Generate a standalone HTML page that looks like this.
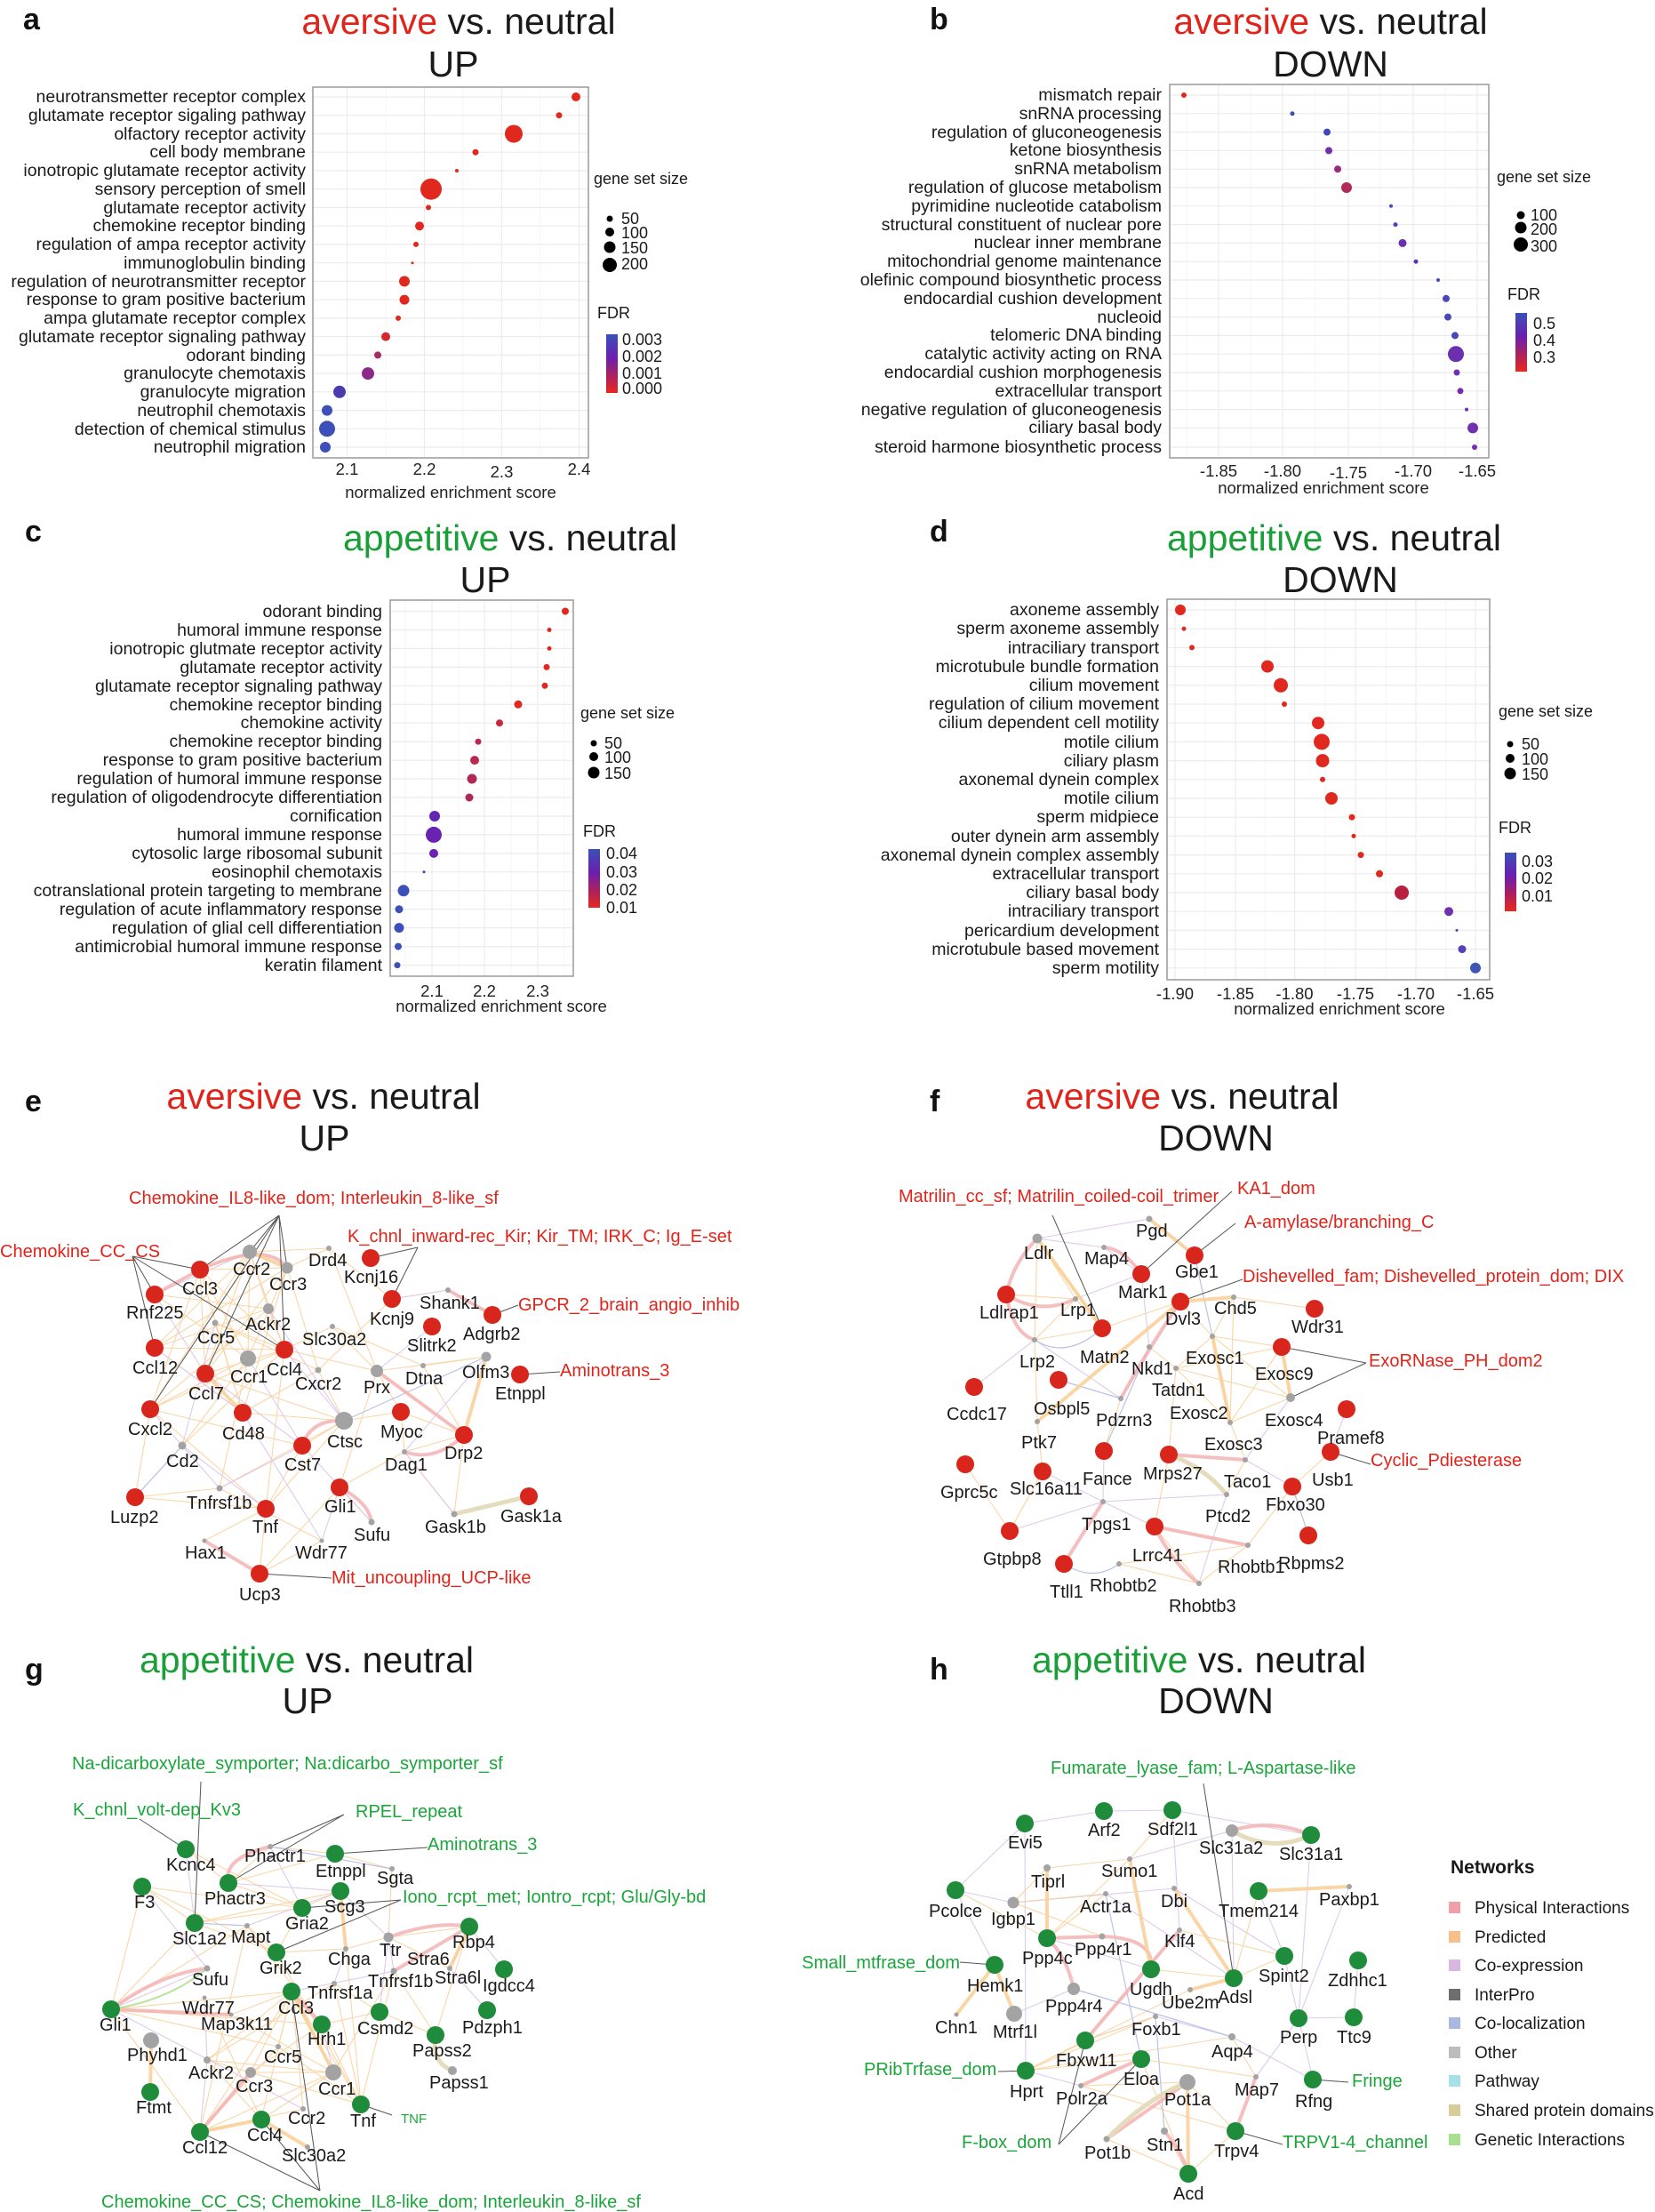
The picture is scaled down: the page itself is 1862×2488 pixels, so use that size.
<!DOCTYPE html>
<html><head><meta charset="utf-8"><style>
html,body{margin:0;padding:0;background:#fff;}
svg{display:block;font-family:"Liberation Sans",Arial,sans-serif;}
.lab{font-size:19.5px;fill:#1a1a1a;text-anchor:end;}
.tk{font-size:18.5px;fill:#222;text-anchor:middle;}
.ttl{font-size:41px;fill:#1a1a1a;text-anchor:middle;}
.pl{font-size:34px;font-weight:bold;fill:#111;}
.lg{font-size:18px;fill:#1a1a1a;}
.g{fill:none;stroke:#ececec;stroke-width:1.2;}
.gm{fill:none;stroke:#f5f5f5;stroke-width:1;}
.box{fill:none;stroke:#9a9a9a;stroke-width:1.5;}
.n{font-size:20px;fill:#1a1a1a;}
.ar{font-size:20px;fill:#e2231a;}
.ag{font-size:20px;fill:#1aa63a;}
.eo{fill:none;stroke:#f9cf96;stroke-width:1.1;opacity:.85;}
.ep{fill:none;stroke:#dcc5ea;stroke-width:1.1;opacity:.9;}
.eb{fill:none;stroke:#b8c3e8;stroke-width:1.2;}
.ek{fill:none;stroke:#f3b4b4;stroke-width:4;opacity:.85;}
.eO{fill:none;stroke:#f9cf96;stroke-width:4;opacity:.85;}
.eB{fill:none;stroke:#e4dcbc;stroke-width:5;}
.ea{fill:none;stroke:#555;stroke-width:1;}
.R{fill:#d9261c;}.G{fill:#1e8c3a;}.Y{fill:#a3a3a3;}
</style></head><body>
<svg width="1862" height="2488" viewBox="0 0 1862 2488" xmlns="http://www.w3.org/2000/svg">
<defs>
<linearGradient id="cb" x1="0" y1="0" x2="0" y2="1">
<stop offset="0" stop-color="#3a50b8"/><stop offset="0.4" stop-color="#6a1fb0"/><stop offset="0.72" stop-color="#b0205a"/><stop offset="1" stop-color="#e8281e"/>
</linearGradient>
</defs>

<!-- ================= PANEL A ================= -->
<text class="pl" x="26" y="33">a</text>
<text class="ttl" x="516" y="38"><tspan fill="#e2231a">aversive</tspan> vs. neutral</text>
<text class="ttl" x="510" y="86">UP</text>
<g>
<path class="gm" d="M434 98V515M521 98V515M608 98V515"/>
<path class="g" d="M390.5 98V515M477.5 98V515M564.5 98V515M651.5 98V515"/>
<path class="g" d="M352 109H662M352 129.7H662M352 150.5H662M352 171.2H662M352 192H662M352 212.7H662M352 233.4H662M352 254.2H662M352 274.9H662M352 295.7H662M352 316.4H662M352 337.1H662M352 357.9H662M352 378.6H662M352 399.4H662M352 420.1H662M352 440.8H662M352 461.6H662M352 482.3H662M352 503H662"/>
<rect class="box" x="352" y="98" width="310" height="417"/>
<g class="lab">
<text x="344" y="115">neurotransmetter receptor complex</text>
<text x="344" y="136">glutamate receptor sigaling pathway</text>
<text x="344" y="157">olfactory receptor activity</text>
<text x="344" y="177">cell body membrane</text>
<text x="344" y="198">ionotropic glutamate receptor activity</text>
<text x="344" y="219">sensory perception of smell</text>
<text x="344" y="240">glutamate receptor activity</text>
<text x="344" y="260">chemokine receptor binding</text>
<text x="344" y="281">regulation of ampa receptor activity</text>
<text x="344" y="302">immunoglobulin binding</text>
<text x="344" y="323">regulation of neurotransmitter receptor</text>
<text x="344" y="343">response to gram positive bacterium</text>
<text x="344" y="364">ampa glutamate receptor complex</text>
<text x="344" y="385">glutamate receptor signaling pathway</text>
<text x="344" y="406">odorant binding</text>
<text x="344" y="426">granulocyte chemotaxis</text>
<text x="344" y="447">granulocyte migration</text>
<text x="344" y="468">neutrophil chemotaxis</text>
<text x="344" y="489">detection of chemical stimulus</text>
<text x="344" y="509">neutrophil migration</text>
</g>
<circle cx="648" cy="109" r="5" fill="#e0281e"/>
<circle cx="629" cy="129.7" r="3.5" fill="#e0281e"/>
<circle cx="578" cy="150.5" r="10" fill="#e0281e"/>
<circle cx="535" cy="171.2" r="3.5" fill="#e0281e"/>
<circle cx="514" cy="192" r="2" fill="#e0281e"/>
<circle cx="485" cy="212.7" r="12" fill="#e0281e"/>
<circle cx="482" cy="233.4" r="3" fill="#e0281e"/>
<circle cx="472" cy="254.2" r="5" fill="#e0281e"/>
<circle cx="468" cy="274.9" r="3" fill="#e0281e"/>
<circle cx="464" cy="295.7" r="1.5" fill="#e0281e"/>
<circle cx="455" cy="316.4" r="6" fill="#e0281e"/>
<circle cx="455" cy="337.1" r="5.5" fill="#e0281e"/>
<circle cx="448" cy="357.9" r="3" fill="#e0281e"/>
<circle cx="434" cy="378.6" r="5" fill="#d22a30"/>
<circle cx="425" cy="399.4" r="4" fill="#a82c60"/>
<circle cx="414" cy="420.1" r="7" fill="#8a2a8a"/>
<circle cx="382" cy="440.8" r="7" fill="#4a3cae"/>
<circle cx="368" cy="461.6" r="6" fill="#3d4fb8"/>
<circle cx="368" cy="482.3" r="9" fill="#3d4fb8"/>
<circle cx="366" cy="503" r="6" fill="#3d4fb8"/>
<g class="tk"><text x="390.5" y="534">2.1</text><text x="477.5" y="534">2.2</text><text x="564.5" y="537">2.3</text><text x="651.5" y="534">2.4</text></g>
<text class="tk" x="507" y="560">normalized enrichment score</text>
<g class="lg">
<text x="668" y="207">gene set size</text>
<circle cx="686" cy="246" r="3.5" fill="#000"/><text x="699" y="252">50</text>
<circle cx="686" cy="261" r="5" fill="#000"/><text x="699" y="268">100</text>
<circle cx="686" cy="278" r="6.5" fill="#000"/><text x="699" y="285">150</text>
<circle cx="686" cy="298" r="8" fill="#000"/><text x="699" y="303">200</text>
<text x="672" y="358">FDR</text>
<rect x="682" y="376" width="13" height="66" fill="url(#cb)"/>
<text x="700" y="388">0.003</text><text x="700" y="407">0.002</text><text x="700" y="426">0.001</text><text x="700" y="443">0.000</text>
</g>
</g>

<!-- ================= PANEL B ================= -->
<text class="pl" x="1046" y="33">b</text>
<text class="ttl" x="1497" y="38"><tspan fill="#e2231a">aversive</tspan> vs. neutral</text>
<text class="ttl" x="1497" y="86">DOWN</text>
<g>
<path class="gm" d="M1335 95V515M1407 95V515M1480 95V515M1553 95V515M1626 95V515"/>
<path class="g" d="M1371 95V515M1443 95V515M1517 95V515M1590 95V515M1662 95V515"/>
<path class="g" d="M1316 107H1675M1316 127.8H1675M1316 148.6H1675M1316 169.4H1675M1316 190.2H1675M1316 211H1675M1316 231.8H1675M1316 252.6H1675M1316 273.4H1675M1316 294.2H1675M1316 315H1675M1316 335.8H1675M1316 356.6H1675M1316 377.4H1675M1316 398.2H1675M1316 419H1675M1316 439.8H1675M1316 460.6H1675M1316 481.4H1675M1316 503H1675"/>
<rect class="box" x="1316" y="95" width="359" height="420"/>
<g class="lab">
<text x="1307" y="113">mismatch repair</text>
<text x="1307" y="134">snRNA processing</text>
<text x="1307" y="155">regulation of gluconeogenesis</text>
<text x="1307" y="175">ketone biosynthesis</text>
<text x="1307" y="196">snRNA metabolism</text>
<text x="1307" y="217">regulation of glucose metabolism</text>
<text x="1307" y="238">pyrimidine nucleotide catabolism</text>
<text x="1307" y="259">structural constituent of nuclear pore</text>
<text x="1307" y="279">nuclear inner membrane</text>
<text x="1307" y="300">mitochondrial genome maintenance</text>
<text x="1307" y="321">olefinic compound biosynthetic process</text>
<text x="1307" y="342">endocardial cushion development</text>
<text x="1307" y="363">nucleoid</text>
<text x="1307" y="383">telomeric DNA binding</text>
<text x="1307" y="404">catalytic activity acting on RNA</text>
<text x="1307" y="425">endocardial cushion morphogenesis</text>
<text x="1307" y="446">extracellular transport</text>
<text x="1307" y="467">negative regulation of gluconeogenesis</text>
<text x="1307" y="487">ciliary basal body</text>
<text x="1307" y="509">steroid harmone biosynthetic process</text>
</g>
<circle cx="1332" cy="107" r="3" fill="#e02a1e"/>
<circle cx="1454" cy="127.8" r="2.5" fill="#3d4fb8"/>
<circle cx="1493" cy="148.6" r="4" fill="#4048b8"/>
<circle cx="1495" cy="169.4" r="4" fill="#7030b0"/>
<circle cx="1505" cy="190.2" r="4" fill="#9a2c80"/>
<circle cx="1515" cy="211" r="6" fill="#b02a5a"/>
<circle cx="1565" cy="231.8" r="2" fill="#3d4fb8"/>
<circle cx="1570" cy="252.6" r="2.5" fill="#5040b8"/>
<circle cx="1578" cy="273.4" r="4.5" fill="#6a30b0"/>
<circle cx="1593" cy="294.2" r="2.5" fill="#5a36b0"/>
<circle cx="1618" cy="315" r="2" fill="#3d4fb8"/>
<circle cx="1627" cy="335.8" r="4" fill="#4848b8"/>
<circle cx="1629" cy="356.6" r="4" fill="#4848b8"/>
<circle cx="1637" cy="377.4" r="4" fill="#4848b8"/>
<circle cx="1638" cy="398.2" r="9" fill="#6a30b0"/>
<circle cx="1639" cy="419" r="3.5" fill="#7030b0"/>
<circle cx="1643" cy="439.8" r="3.5" fill="#7a2cb0"/>
<circle cx="1650" cy="460.6" r="2" fill="#7030b0"/>
<circle cx="1657" cy="481.4" r="6" fill="#7030b0"/>
<circle cx="1659" cy="503" r="3" fill="#7a2cb0"/>
<g class="tk"><text x="1371" y="536">-1.85</text><text x="1443" y="536">-1.80</text><text x="1517" y="538">-1.75</text><text x="1590" y="536">-1.70</text><text x="1662" y="536">-1.65</text></g>
<text class="tk" x="1489" y="555">normalized enrichment score</text>
<g class="lg">
<text x="1684" y="205">gene set size</text>
<circle cx="1711" cy="242" r="4.5" fill="#000"/><text x="1722" y="248">100</text>
<circle cx="1711" cy="256" r="6.5" fill="#000"/><text x="1722" y="264">200</text>
<circle cx="1711" cy="275" r="8" fill="#000"/><text x="1722" y="283">300</text>
<text x="1696" y="337">FDR</text>
<rect x="1705" y="352" width="13" height="66" fill="url(#cb)"/>
<text x="1725" y="370">0.5</text><text x="1725" y="389">0.4</text><text x="1725" y="408">0.3</text>
</g>
</g>

<!-- ================= PANEL C ================= -->
<text class="pl" x="28" y="609">c</text>
<text class="ttl" x="574" y="619"><tspan fill="#1a9e38">appetitive</tspan> vs. neutral</text>
<text class="ttl" x="546" y="666">UP</text>
<g>
<path class="gm" d="M456 675V1098M516 675V1098M575 675V1098M635 675V1098"/>
<path class="g" d="M486 675V1098M545 675V1098M605 675V1098"/>
<path class="g" d="M439 687.5H645M439 708.5H645M439 729.4H645M439 750.4H645M439 771.3H645M439 792.3H645M439 813.2H645M439 834.2H645M439 855.1H645M439 876H645M439 897H645M439 918H645M439 938.9H645M439 959.9H645M439 980.8H645M439 1001.8H645M439 1022.7H645M439 1043.6H645M439 1064.6H645M439 1085.6H645"/>
<rect class="box" x="439" y="675" width="206" height="423"/>
<g class="lab">
<text x="430" y="694">odorant binding</text>
<text x="430" y="715">humoral immune response</text>
<text x="430" y="736">ionotropic glutmate receptor activity</text>
<text x="430" y="757">glutamate receptor activity</text>
<text x="430" y="778">glutamate receptor signaling pathway</text>
<text x="430" y="799">chemokine receptor binding</text>
<text x="430" y="819">chemokine activity</text>
<text x="430" y="840">chemokine receptor binding</text>
<text x="430" y="861">response to gram positive bacterium</text>
<text x="430" y="882">regulation of humoral immune response</text>
<text x="430" y="903">regulation of oligodendrocyte differentiation</text>
<text x="430" y="924">cornification</text>
<text x="430" y="945">humoral immune response</text>
<text x="430" y="966">cytosolic large ribosomal subunit</text>
<text x="430" y="987">eosinophil chemotaxis</text>
<text x="430" y="1008">cotranslational protein targeting to membrane</text>
<text x="430" y="1029">regulation of acute inflammatory response</text>
<text x="430" y="1050">regulation of glial cell differentiation</text>
<text x="430" y="1071">antimicrobial humoral immune response</text>
<text x="430" y="1092">keratin filament</text>
</g>
<circle cx="636" cy="687.5" r="4" fill="#e0281e"/>
<circle cx="618" cy="708.5" r="2.5" fill="#e0281e"/>
<circle cx="618" cy="729.4" r="2.5" fill="#e0281e"/>
<circle cx="615" cy="750.4" r="3.5" fill="#e0281e"/>
<circle cx="613" cy="771.3" r="3.5" fill="#e0281e"/>
<circle cx="583" cy="792.3" r="4.5" fill="#e0281e"/>
<circle cx="562" cy="813.2" r="4" fill="#c8283c"/>
<circle cx="538" cy="834.2" r="3.5" fill="#b82850"/>
<circle cx="534" cy="855.1" r="5" fill="#b82850"/>
<circle cx="531" cy="876" r="5.5" fill="#b02858"/>
<circle cx="528" cy="897" r="4.5" fill="#b02858"/>
<circle cx="489" cy="918" r="6" fill="#6028b0"/>
<circle cx="488" cy="938.9" r="9" fill="#6a22b0"/>
<circle cx="488" cy="959.9" r="5" fill="#6a22b0"/>
<circle cx="477" cy="980.8" r="1.5" fill="#5a30b0"/>
<circle cx="454" cy="1001.8" r="6.5" fill="#3d4fb8"/>
<circle cx="449" cy="1022.7" r="4.5" fill="#3d4fb8"/>
<circle cx="449" cy="1043.6" r="5.5" fill="#3d4fb8"/>
<circle cx="448" cy="1064.6" r="4" fill="#3d4fb8"/>
<circle cx="447" cy="1085.6" r="3.5" fill="#3d4fb8"/>
<g class="tk"><text x="486" y="1121">2.1</text><text x="545" y="1121">2.2</text><text x="605" y="1121">2.3</text></g>
<text class="tk" x="564" y="1138">normalized enrichment score</text>
<g class="lg">
<text x="653" y="808">gene set size</text>
<circle cx="668" cy="836" r="3.5" fill="#000"/><text x="680" y="842">50</text>
<circle cx="668" cy="851" r="5" fill="#000"/><text x="680" y="858">100</text>
<circle cx="668" cy="869" r="6.5" fill="#000"/><text x="680" y="876">150</text>
<text x="656" y="941">FDR</text>
<rect x="662" y="955" width="13" height="66" fill="url(#cb)"/>
<text x="682" y="966">0.04</text><text x="682" y="987">0.03</text><text x="682" y="1007">0.02</text><text x="682" y="1027">0.01</text>
</g>
</g>

<!-- ================= PANEL D ================= -->
<text class="pl" x="1046" y="609">d</text>
<text class="ttl" x="1501" y="619"><tspan fill="#1a9e38">appetitive</tspan> vs. neutral</text>
<text class="ttl" x="1508" y="666">DOWN</text>
<g>
<path class="gm" d="M1356 674V1102M1423 674V1102M1491 674V1102M1559 674V1102M1627 674V1102"/>
<path class="g" d="M1322 674V1102M1390 674V1102M1456.5 674V1102M1525 674V1102M1593 674V1102M1660 674V1102"/>
<path class="g" d="M1313 686H1676M1313 707.2H1676M1313 728.4H1676M1313 749.6H1676M1313 770.8H1676M1313 792H1676M1313 813.2H1676M1313 834.4H1676M1313 855.6H1676M1313 876.8H1676M1313 898H1676M1313 919.2H1676M1313 940.4H1676M1313 961.6H1676M1313 982.8H1676M1313 1004H1676M1313 1025.2H1676M1313 1046.4H1676M1313 1067.6H1676M1313 1088.8H1676"/>
<rect class="box" x="1313" y="674" width="363" height="428"/>
<g class="lab">
<text x="1304" y="692">axoneme assembly</text>
<text x="1304" y="713">sperm axoneme assembly</text>
<text x="1304" y="735">intraciliary transport</text>
<text x="1304" y="756">microtubule bundle formation</text>
<text x="1304" y="777">cilium movement</text>
<text x="1304" y="798">regulation of cilium movement</text>
<text x="1304" y="819">cilium dependent cell motility</text>
<text x="1304" y="841">motile cilium</text>
<text x="1304" y="862">ciliary plasm</text>
<text x="1304" y="883">axonemal dynein complex</text>
<text x="1304" y="904">motile cilium</text>
<text x="1304" y="925">sperm midpiece</text>
<text x="1304" y="947">outer dynein arm assembly</text>
<text x="1304" y="968">axonemal dynein complex assembly</text>
<text x="1304" y="989">extracellular transport</text>
<text x="1304" y="1010">ciliary basal body</text>
<text x="1304" y="1031">intraciliary transport</text>
<text x="1304" y="1053">pericardium development</text>
<text x="1304" y="1074">microtubule based movement</text>
<text x="1304" y="1095">sperm motility</text>
</g>
<circle cx="1328" cy="686" r="6" fill="#e0281e"/>
<circle cx="1332" cy="707.2" r="2.5" fill="#e0281e"/>
<circle cx="1341" cy="728.4" r="3" fill="#e0281e"/>
<circle cx="1426" cy="749.6" r="7" fill="#e0281e"/>
<circle cx="1441" cy="770.8" r="8" fill="#e0281e"/>
<circle cx="1445" cy="792" r="3" fill="#e0281e"/>
<circle cx="1483" cy="813.2" r="7" fill="#e0281e"/>
<circle cx="1487" cy="834.4" r="9" fill="#e0281e"/>
<circle cx="1488" cy="855.6" r="7.5" fill="#e0281e"/>
<circle cx="1488" cy="876.8" r="3" fill="#e0281e"/>
<circle cx="1498" cy="898" r="7" fill="#e0281e"/>
<circle cx="1521" cy="919.2" r="3.5" fill="#e0281e"/>
<circle cx="1523" cy="940.4" r="2.5" fill="#e0281e"/>
<circle cx="1531" cy="961.6" r="3.5" fill="#e0281e"/>
<circle cx="1552" cy="982.8" r="4" fill="#e0281e"/>
<circle cx="1577" cy="1004" r="8" fill="#b8203f"/>
<circle cx="1630" cy="1025.2" r="5" fill="#7030b0"/>
<circle cx="1639" cy="1046.4" r="1.5" fill="#5040b8"/>
<circle cx="1645" cy="1067.6" r="4.5" fill="#5a40b8"/>
<circle cx="1660" cy="1088.8" r="6" fill="#3d55b5"/>
<g class="tk"><text x="1322" y="1124">-1.90</text><text x="1390" y="1124">-1.85</text><text x="1456.5" y="1124">-1.80</text><text x="1525" y="1124">-1.75</text><text x="1593" y="1124">-1.70</text><text x="1660" y="1124">-1.65</text></g>
<text class="tk" x="1507" y="1141">normalized enrichment score</text>
<g class="lg">
<text x="1686" y="806">gene set size</text>
<circle cx="1699" cy="837" r="3.5" fill="#000"/><text x="1712" y="843">50</text>
<circle cx="1699" cy="853" r="5" fill="#000"/><text x="1712" y="860">100</text>
<circle cx="1699" cy="870" r="6.5" fill="#000"/><text x="1712" y="877">150</text>
<text x="1686" y="937">FDR</text>
<rect x="1693" y="959" width="13" height="66" fill="url(#cb)"/>
<text x="1712" y="975">0.03</text><text x="1712" y="994">0.02</text><text x="1712" y="1014">0.01</text>
</g>
</g>

<!-- ================= PANEL E ================= -->
<text class="pl" x="28" y="1250">e</text>
<text class="ttl" x="364" y="1247"><tspan fill="#e2231a">aversive</tspan> vs. neutral</text>
<text class="ttl" x="365" y="1294">UP</text>
<path class="eo" d="M225 1428L281 1408M225 1428L323 1426M225 1428L320 1518M225 1428L279 1528M225 1428L231 1545M225 1428L169 1585M225 1428L273 1589M281 1408L320 1518M281 1408L231 1545M281 1408L169 1585M281 1408L174 1516M281 1408L279 1528M323 1426L279 1528M323 1426L231 1545M323 1426L174 1516M323 1426L273 1589M323 1426L358 1541M302 1472L174 1516M302 1472L169 1585M302 1472L320 1518M242 1488L320 1518M242 1488L273 1589M174 1516L320 1518M174 1516L273 1589M231 1545L320 1518M169 1585L320 1518M169 1585L279 1528M273 1589L358 1541M273 1589L387 1598M340 1626L387 1598M340 1626L169 1585M205 1626L320 1518M205 1626L279 1528M247 1674L279 1528M247 1674L387 1598M152 1684L247 1674M152 1684L299 1697M299 1697L387 1598M299 1697L320 1518M299 1697L169 1585M292 1770L382 1673M292 1770L362 1733M292 1770L299 1697M382 1673L424 1542M382 1673L455 1633M370 1404L441 1461M370 1404L424 1542M370 1404L281 1408M374 1492L424 1542M374 1492L476 1536M424 1542L522 1614M424 1542L547 1526M476 1536L522 1614M451 1588L522 1614M451 1588L455 1633M455 1633L522 1614M511 1703L455 1633M418 1712L382 1673M230 1733L299 1697M441 1461L504 1451M362 1733L247 1674M387 1598L451 1588M358 1541L441 1461M320 1518L424 1542M174 1456L302 1472M174 1456L279 1528M370 1404L323 1426M281 1408L302 1472M242 1488L358 1541M231 1545L387 1598M320 1518L374 1492M169 1585L152 1684M358 1541L387 1598M340 1626L299 1697M424 1542L451 1588M476 1536L547 1526M522 1614L511 1703"/>
<path class="ep" d="M174 1456L281 1408M174 1456L231 1545M169 1585L247 1674M205 1626L299 1697M273 1589L362 1733M340 1626L418 1712M504 1451L554 1479M504 1451L441 1461M547 1526L455 1633M455 1633L511 1703M382 1673L362 1733M320 1518L387 1598M279 1528L340 1626M242 1488L205 1626M231 1545L340 1626M152 1684L205 1626M424 1542L486 1492M302 1472L387 1598M174 1516L273 1589M169 1585L205 1626M247 1674L340 1626"/>
<path class="eb" d="M387 1598L547 1526M205 1626L152 1684"/>
<path class="ek" d="M225 1428Q300 1395 323 1426M554 1479L504 1451M424 1542L522 1614M230 1733L292 1770M382 1673Q415 1690 418 1712M455 1633Q490 1645 522 1614M340 1626Q350 1596 387 1598M174 1456L225 1428"/>
<path class="eO" d="M547 1526L522 1614M281 1408L323 1426M231 1545L273 1589"/>
<path class="eB" d="M511 1703L595 1683"/>
<path class="ea" d="M314 1367L225 1428M314 1367L281 1408M314 1367L323 1426M314 1367L231 1545M314 1367L169 1585M314 1367L320 1518M149 1413L225 1428M149 1413L174 1456M149 1413L174 1516M149 1413L320 1518M470 1403L417 1415M470 1403L441 1461M554 1479L583 1468M585 1546L630 1543M292 1770L373 1775"/>
<g class="R">
<circle cx="225" cy="1428" r="10"/><circle cx="174" cy="1456" r="10"/><circle cx="174" cy="1516" r="10"/><circle cx="231" cy="1545" r="10"/><circle cx="169" cy="1585" r="10"/><circle cx="273" cy="1589" r="10"/><circle cx="320" cy="1518" r="10"/><circle cx="340" cy="1626" r="10"/><circle cx="299" cy="1697" r="10"/><circle cx="382" cy="1673" r="10"/><circle cx="152" cy="1684" r="10"/><circle cx="292" cy="1770" r="10"/><circle cx="451" cy="1588" r="10"/><circle cx="522" cy="1614" r="10"/><circle cx="417" cy="1415" r="10"/><circle cx="441" cy="1461" r="10"/><circle cx="486" cy="1492" r="10"/><circle cx="554" cy="1479" r="10"/><circle cx="585" cy="1546" r="10"/><circle cx="595" cy="1683" r="10"/>
</g>
<g class="Y">
<circle cx="281" cy="1408" r="8"/><circle cx="279" cy="1528" r="9"/><circle cx="387" cy="1598" r="10"/><circle cx="424" cy="1542" r="7"/><circle cx="323" cy="1426" r="6.5"/><circle cx="302" cy="1472" r="6"/><circle cx="547" cy="1526" r="5.5"/>
<circle cx="370" cy="1404" r="3"/><circle cx="504" cy="1451" r="3"/><circle cx="242" cy="1488" r="3.5"/><circle cx="374" cy="1492" r="3"/><circle cx="358" cy="1541" r="3.5"/><circle cx="476" cy="1536" r="3"/><circle cx="205" cy="1626" r="4.5"/><circle cx="455" cy="1633" r="3"/><circle cx="247" cy="1674" r="3.5"/><circle cx="418" cy="1712" r="3.5"/><circle cx="511" cy="1703" r="3.5"/><circle cx="230" cy="1733" r="2.5"/><circle cx="362" cy="1733" r="2.5"/>
</g>
<g class="n">
<text x="262" y="1434">Ccr2</text><text x="303" y="1451">Ccr3</text><text x="347" y="1424">Drd4</text><text x="387" y="1443">Kcnj16</text><text x="205" y="1456">Ccl3</text><text x="142" y="1483">Rnf225</text><text x="472" y="1472">Shank1</text><text x="276" y="1496">Ackr2</text><text x="416" y="1490">Kcnj9</text><text x="222" y="1511">Ccr5</text><text x="340" y="1513">Slc30a2</text><text x="458" y="1520">Slitrk2</text><text x="521" y="1507">Adgrb2</text><text x="149" y="1545">Ccl12</text><text x="259" y="1555">Ccr1</text><text x="300" y="1547">Ccl4</text><text x="332" y="1563">Cxcr2</text><text x="409" y="1567">Prx</text><text x="456" y="1557">Dtna</text><text x="520" y="1550">Olfm3</text><text x="557" y="1574">Etnppl</text><text x="212" y="1574">Ccl7</text><text x="144" y="1614">Cxcl2</text><text x="250" y="1619">Cd48</text><text x="428" y="1617">Myoc</text><text x="368" y="1628">Ctsc</text><text x="500" y="1641">Drp2</text><text x="187" y="1650">Cd2</text><text x="320" y="1654">Cst7</text><text x="433" y="1654">Dag1</text><text x="210" y="1697">Tnfrsf1b</text><text x="365" y="1701">Gli1</text><text x="124" y="1713">Luzp2</text><text x="284" y="1724">Tnf</text><text x="398" y="1733">Sufu</text><text x="478" y="1724">Gask1b</text><text x="563" y="1712">Gask1a</text><text x="208" y="1753">Hax1</text><text x="332" y="1753">Wdr77</text><text x="269" y="1800">Ucp3</text>
</g>
<g class="ar">
<text x="145" y="1354">Chemokine_IL8-like_dom; Interleukin_8-like_sf</text>
<text x="391" y="1397">K_chnl_inward-rec_Kir; Kir_TM; IRK_C; Ig_E-set</text>
<text x="0" y="1414">Chemokine_CC_CS</text>
<text x="583" y="1474">GPCR_2_brain_angio_inhib</text>
<text x="630" y="1548">Aminotrans_3</text>
<text x="373" y="1781">Mit_uncoupling_UCP-like</text>
</g>

<!-- ================= PANEL F ================= -->
<text class="pl" x="1046" y="1250">f</text>
<text class="ttl" x="1330" y="1247"><tspan fill="#e2231a">aversive</tspan> vs. neutral</text>
<text class="ttl" x="1368" y="1294">DOWN</text>
<path class="eo" d="M1167 1393L1210 1461M1167 1393L1164 1507M1167 1393L1240 1494M1132 1456L1210 1461M1164 1507L1210 1461M1164 1507L1240 1494M1388 1459L1479 1472M1364 1503L1442 1515M1364 1503L1452 1572M1364 1503L1384 1600M1364 1503L1323 1539M1442 1515L1452 1572M1442 1515L1384 1600M1442 1515L1323 1539M1384 1600L1452 1572M1384 1600L1323 1539M1384 1600L1401 1642M1323 1539L1452 1572M1328 1464L1364 1503M1388 1459L1364 1503M1299 1717L1404 1738M1299 1717L1349 1781M1259 1759L1404 1738M1259 1759L1349 1781M1404 1738L1349 1781M1454 1672L1404 1738M1497 1633L1454 1672M1173 1655L1167 1599M1086 1647L1136 1722M1136 1722L1173 1655M1328 1464L1240 1494M1315 1636L1323 1539M1164 1507L1167 1599M1401 1642L1380 1681M1242 1632L1261 1573M1388 1459L1384 1600M1364 1503L1442 1515M1210 1461L1240 1494M1323 1539L1293 1515M1315 1636L1299 1717"/>
<path class="ep" d="M1167 1393L1293 1371M1293 1371L1344 1412M1242 1403L1284 1433M1167 1393L1242 1403M1096 1560L1164 1507M1136 1722L1241 1689M1241 1689L1380 1681M1241 1689L1173 1655M1241 1689L1242 1632M1261 1573L1293 1515M1261 1573L1328 1464M1293 1515L1284 1433M1472 1727L1454 1672M1515 1585L1497 1633M1452 1572L1401 1642M1401 1642L1454 1672M1241 1689L1299 1717M1380 1681L1349 1781M1210 1461L1284 1433M1164 1507L1261 1573"/>
<path class="eb" d="M1164 1507Q1200 1530 1240 1494M1261 1573L1191 1552M1242 1632L1293 1515M1197 1759Q1230 1780 1259 1759M1454 1672L1472 1727M1344 1412L1364 1503"/>
<path class="ek" d="M1132 1456Q1170 1480 1210 1461M1132 1456Q1140 1420 1167 1393M1132 1456Q1140 1500 1164 1507M1242 1403Q1265 1405 1284 1433M1315 1636L1401 1642M1299 1717L1404 1738M1197 1759L1241 1689M1328 1464Q1290 1520 1261 1573M1299 1717Q1320 1760 1349 1781"/>
<path class="eO" d="M1293 1371L1344 1412M1328 1464L1167 1599M1328 1464L1388 1459M1167 1393L1240 1494M1364 1503L1384 1600M1442 1515L1452 1572"/>
<path class="eB" d="M1315 1636Q1355 1650 1380 1681"/>
<path class="ea" d="M1184 1367L1240 1494M1386 1340L1284 1433M1390 1376L1344 1412M1398 1439L1328 1464M1537 1533L1442 1515M1537 1533L1452 1572M1542 1647L1497 1633"/>
<g class="R">
<circle cx="1344" cy="1412" r="10"/><circle cx="1284" cy="1433" r="10"/><circle cx="1328" cy="1464" r="10"/><circle cx="1132" cy="1456" r="10"/><circle cx="1240" cy="1494" r="10"/><circle cx="1479" cy="1472" r="10"/><circle cx="1442" cy="1515" r="10"/><circle cx="1096" cy="1560" r="10"/><circle cx="1191" cy="1552" r="10"/><circle cx="1515" cy="1585" r="10"/><circle cx="1242" cy="1632" r="10"/><circle cx="1315" cy="1636" r="10"/><circle cx="1497" cy="1633" r="10"/><circle cx="1086" cy="1647" r="10"/><circle cx="1173" cy="1655" r="10"/><circle cx="1454" cy="1672" r="10"/><circle cx="1136" cy="1722" r="10"/><circle cx="1299" cy="1717" r="10"/><circle cx="1472" cy="1727" r="10"/><circle cx="1197" cy="1759" r="10"/>
</g>
<g class="Y">
<circle cx="1167" cy="1393" r="5.5"/><circle cx="1293" cy="1371" r="3.5"/><circle cx="1242" cy="1403" r="3"/><circle cx="1210" cy="1461" r="3"/><circle cx="1388" cy="1459" r="3"/><circle cx="1164" cy="1507" r="3"/><circle cx="1293" cy="1515" r="3"/><circle cx="1364" cy="1503" r="3"/><circle cx="1323" cy="1539" r="3"/><circle cx="1452" cy="1572" r="5"/><circle cx="1384" cy="1600" r="3"/><circle cx="1261" cy="1573" r="3"/><circle cx="1167" cy="1599" r="3"/><circle cx="1401" cy="1642" r="3"/><circle cx="1380" cy="1681" r="3"/><circle cx="1241" cy="1689" r="3"/><circle cx="1404" cy="1738" r="3"/><circle cx="1259" cy="1759" r="3"/><circle cx="1349" cy="1781" r="3"/>
</g>
<g class="n">
<text x="1278" y="1391">Pgd</text><text x="1152" y="1416">Ldlr</text><text x="1220" y="1422">Map4</text><text x="1322" y="1437">Gbe1</text><text x="1258" y="1460">Mark1</text><text x="1102" y="1483">Ldlrap1</text><text x="1193" y="1480">Lrp1</text><text x="1366" y="1478">Chd5</text><text x="1311" y="1490">Dvl3</text><text x="1453" y="1499">Wdr31</text><text x="1147" y="1538">Lrp2</text><text x="1215" y="1533">Matn2</text><text x="1334" y="1534">Exosc1</text><text x="1273" y="1546">Nkd1</text><text x="1412" y="1552">Exosc9</text><text x="1296" y="1570">Tatdn1</text><text x="1065" y="1597">Ccdc17</text><text x="1163" y="1591">Osbpl5</text><text x="1316" y="1596">Exosc2</text><text x="1233" y="1604">Pdzrn3</text><text x="1423" y="1604">Exosc4</text><text x="1482" y="1624">Pramef8</text><text x="1149" y="1629">Ptk7</text><text x="1355" y="1631">Exosc3</text><text x="1286" y="1664">Mrps27</text><text x="1218" y="1670">Fance</text><text x="1377" y="1673">Taco1</text><text x="1476" y="1671">Usb1</text><text x="1058" y="1685">Gprc5c</text><text x="1136" y="1681">Slc16a11</text><text x="1424" y="1699">Fbxo30</text><text x="1356" y="1712">Ptcd2</text><text x="1217" y="1721">Tpgs1</text><text x="1106" y="1760">Gtpbp8</text><text x="1274" y="1756">Lrrc41</text><text x="1370" y="1769">Rhobtb1</text><text x="1438" y="1765">Rbpms2</text><text x="1226" y="1790">Rhobtb2</text><text x="1181" y="1797">Ttll1</text><text x="1315" y="1813">Rhobtb3</text>
</g>
<g class="ar">
<text x="1011" y="1352">Matrilin_cc_sf; Matrilin_coiled-coil_trimer</text>
<text x="1392" y="1343">KA1_dom</text>
<text x="1400" y="1381">A-amylase/branching_C</text>
<text x="1398" y="1442">Dishevelled_fam; Dishevelled_protein_dom; DIX</text>
<text x="1540" y="1537">ExoRNase_PH_dom2</text>
<text x="1542" y="1649">Cyclic_Pdiesterase</text>
</g>

<!-- ================= PANEL G ================= -->
<text class="pl" x="28" y="1889">g</text>
<text class="ttl" x="345" y="1881"><tspan fill="#1a9e38">appetitive</tspan> vs. neutral</text>
<text class="ttl" x="346" y="1927">UP</text>
<path class="eo" d="M328 2240L375 2331M328 2240L282 2331M328 2240L313 2302M328 2240L233 2317M328 2240L341 2372M328 2240L294 2384M328 2240L225 2398M328 2240L406 2367M375 2331L282 2331M375 2331L225 2398M375 2331L294 2384M375 2331L233 2317M282 2331L225 2398M282 2331L406 2367M313 2302L225 2398M313 2302L406 2367M233 2317L294 2384M233 2317L406 2367M341 2372L225 2398M362 2277L406 2367M362 2277L282 2331M376 2231L406 2367M376 2231L233 2317M443 2217L406 2367M443 2217L375 2331M125 2260L328 2240M125 2260L219 2163M125 2260L278 2166M125 2260L362 2277M125 2260L313 2302M125 2260L260 2266M125 2260L160 2122M160 2122L219 2163M160 2122L311 2196M160 2122L340 2146M219 2163L340 2146M219 2163L311 2196M219 2163L383 2127M257 2118L304 2077M257 2118L340 2146M257 2118L377 2085M304 2077L377 2085M311 2196L340 2146M311 2196L389 2192M340 2146L383 2127M383 2127L389 2192M389 2192L437 2179M437 2179L528 2167M437 2179L506 2214M427 2263L490 2289M427 2263L362 2277M427 2263L376 2231M490 2289L528 2167M490 2289L443 2217M209 2080L257 2118M209 2080L340 2146M278 2166L311 2196M278 2166L362 2277M260 2266L328 2240M230 2247L294 2384M311 2196L406 2367M441 2102L437 2179M377 2085L441 2102M125 2260L225 2398M278 2166L225 2398M260 2266L375 2331M383 2127L406 2367"/>
<path class="ep" d="M125 2260L233 2214M160 2122L233 2214M257 2118L383 2127M383 2127L437 2179M437 2179L443 2217M506 2214L528 2167M548 2261L506 2214M567 2215L528 2167M427 2263L437 2179M389 2192L376 2231M209 2080L219 2163M278 2166L383 2127M233 2317L225 2398M328 2240L443 2217M362 2277L375 2331M125 2260L341 2372M230 2247L233 2317M304 2077L340 2146"/>
<path class="eb" d="M304 2077L441 2102M219 2163L278 2166"/>
<path class="ek" d="M125 2260Q180 2220 233 2214M437 2179Q490 2160 528 2167M443 2217L528 2167M225 2398L282 2331M257 2118Q250 2090 304 2077M328 2240L362 2277M125 2260L260 2266"/>
<path class="eO" d="M506 2214L528 2167M294 2384L346 2415M170 2295L169 2353M383 2127L389 2192M328 2240L375 2331M225 2398L294 2384"/>
<path d="M125 2260Q190 2250 233 2214" fill="none" stroke="#b8e39a" stroke-width="2"/>
<path class="eB" d="M490 2289Q485 2320 509 2329"/>
<path class="ea" d="M226 2004L219 2163M157 2046L209 2080M387 2041L304 2077M387 2041L257 2118M481 2078L377 2085M451 2137L340 2146M451 2137L311 2196M360 2464L225 2398M360 2464L294 2384M360 2464L328 2240M406 2367L441 2379"/>
<g class="G">
<circle cx="209" cy="2080" r="10"/><circle cx="257" cy="2118" r="10"/><circle cx="160" cy="2122" r="10"/><circle cx="377" cy="2085" r="10"/><circle cx="383" cy="2127" r="10"/><circle cx="340" cy="2146" r="10"/><circle cx="219" cy="2163" r="10"/><circle cx="528" cy="2167" r="10"/><circle cx="311" cy="2196" r="10"/><circle cx="567" cy="2215" r="10"/><circle cx="328" cy="2240" r="10"/><circle cx="125" cy="2260" r="10"/><circle cx="427" cy="2263" r="10"/><circle cx="548" cy="2261" r="10"/><circle cx="362" cy="2277" r="10"/><circle cx="490" cy="2289" r="10"/><circle cx="169" cy="2353" r="10"/><circle cx="406" cy="2367" r="10"/><circle cx="294" cy="2384" r="10"/><circle cx="225" cy="2398" r="10"/>
</g>
<g class="Y">
<circle cx="170" cy="2295" r="9"/><circle cx="375" cy="2331" r="9"/><circle cx="282" cy="2331" r="6"/><circle cx="509" cy="2329" r="5"/><circle cx="437" cy="2179" r="5.5"/>
<circle cx="304" cy="2077" r="3"/><circle cx="441" cy="2102" r="3"/><circle cx="278" cy="2166" r="3"/><circle cx="389" cy="2192" r="3"/><circle cx="233" cy="2214" r="3.5"/><circle cx="443" cy="2217" r="3.5"/><circle cx="506" cy="2214" r="3"/><circle cx="376" cy="2231" r="3"/><circle cx="230" cy="2247" r="2.5"/><circle cx="260" cy="2266" r="2.5"/><circle cx="313" cy="2302" r="3"/><circle cx="233" cy="2317" r="4"/><circle cx="341" cy="2372" r="3"/><circle cx="346" cy="2415" r="3"/>
</g>
<g class="n">
<text x="187" y="2104">Kcnc4</text><text x="275" y="2094">Phactr1</text><text x="355" y="2111">Etnppl</text><text x="424" y="2119">Sgta</text><text x="151" y="2146">F3</text><text x="230" y="2142">Phactr3</text><text x="365" y="2151">Scg3</text><text x="321" y="2170">Gria2</text><text x="194" y="2187">Slc1a2</text><text x="260" y="2185">Mapt</text><text x="509" y="2191">Rbp4</text><text x="427" y="2200">Ttr</text><text x="369" y="2210">Chga</text><text x="458" y="2210">Stra6</text><text x="292" y="2220">Grik2</text><text x="216" y="2233">Sufu</text><text x="414" y="2235">Tnfrsf1b</text><text x="489" y="2231">Stra6l</text><text x="543" y="2240">Igdcc4</text><text x="346" y="2248">Tnfrsf1a</text><text x="205" y="2265">Wdr77</text><text x="313" y="2265">Ccl3</text><text x="112" y="2284">Gli1</text><text x="226" y="2283">Map3k11</text><text x="402" y="2288">Csmd2</text><text x="520" y="2287">Pdzph1</text><text x="346" y="2300">Hrh1</text><text x="464" y="2313">Papss2</text><text x="143" y="2318">Phyhd1</text><text x="297" y="2320">Ccr5</text><text x="212" y="2338">Ackr2</text><text x="483" y="2349">Papss1</text><text x="265" y="2353">Ccr3</text><text x="358" y="2356">Ccr1</text><text x="153" y="2377">Ftmt</text><text x="324" y="2389">Ccr2</text><text x="394" y="2392">Tnf</text><text x="278" y="2408">Ccl4</text><text x="205" y="2422">Ccl12</text><text x="317" y="2431">Slc30a2</text>
</g>
<text x="451" y="2388" style="font-size:15px;fill:#1aa63a">TNF</text>
<g class="ag">
<text x="81" y="1990">Na-dicarboxylate_symporter; Na:dicarbo_symporter_sf</text>
<text x="82" y="2042">K_chnl_volt-dep_Kv3</text>
<text x="400" y="2044">RPEL_repeat</text>
<text x="481" y="2081">Aminotrans_3</text>
<text x="453" y="2140">Iono_rcpt_met; Iontro_rcpt; Glu/Gly-bd</text>
<text x="114" y="2483">Chemokine_CC_CS; Chemokine_IL8-like_dom; Interleukin_8-like_sf</text>
</g>

<!-- ================= PANEL H ================= -->
<text class="pl" x="1046" y="1889">h</text>
<text class="ttl" x="1349" y="1881"><tspan fill="#1a9e38">appetitive</tspan> vs. neutral</text>
<text class="ttl" x="1368" y="1927">DOWN</text>
<path class="ep" d="M1153 2051L1242 2037M1242 2037L1319 2036M1153 2051L1075 2126M1075 2126L1140 2140M1075 2126L1119 2210M1153 2051L1154 2329M1319 2036L1475 2064M1271 2091L1386 2059M1140 2140L1321 2124M1321 2124L1445 2200M1445 2200L1461 2270M1461 2270L1523 2269M1528 2205L1523 2269M1461 2270L1477 2339M1386 2291L1477 2339M1413 2336L1461 2270M1178 2180L1295 2215M1208 2237L1386 2291M1141 2265L1208 2237M1416 2127L1445 2200M1475 2064L1461 2270M1244 2130L1388 2225M1300 2268L1386 2291M1221 2295L1300 2268M1154 2329L1216 2346M1319 2036L1327 2171M1386 2059L1388 2225M1518 2122L1461 2270"/>
<path class="eo" d="M1140 2140L1178 2101M1140 2140L1244 2130M1140 2140L1240 2178M1178 2101L1271 2091M1178 2180L1244 2130M1178 2180L1271 2091M1271 2091L1319 2036M1327 2171L1221 2295M1327 2171L1445 2200M1295 2215L1388 2225M1339 2238L1154 2329M1300 2268L1154 2329M1300 2268L1221 2295M1154 2329L1221 2295M1154 2329L1284 2316M1284 2316L1337 2445M1310 2397L1337 2445M1245 2406L1337 2445M1390 2397L1337 2445M1386 2291L1413 2336M1336 2342L1390 2397M1216 2346L1336 2342M1445 2200L1388 2225M1386 2291L1154 2329M1416 2127L1388 2225M1216 2346L1390 2397M1284 2316L1413 2336M1075 2126L1178 2180"/>
<path class="eb" d="M1208 2237L1386 2291M1244 2130L1284 2316M1300 2268L1310 2397"/>
<path class="ek" d="M1386 2059Q1430 2045 1475 2064M1178 2180Q1200 2200 1208 2237M1178 2180L1240 2178M1221 2295L1327 2171M1216 2346Q1250 2330 1284 2316M1245 2406L1336 2342M1310 2397Q1330 2420 1337 2445M1413 2336L1390 2397M1240 2178Q1300 2180 1295 2215"/>
<path class="eO" d="M1416 2127L1518 2122M1119 2210L1076 2266M1119 2210L1141 2265M1178 2101L1178 2180M1271 2091L1295 2215M1321 2124L1388 2225M1336 2342L1337 2445M1339 2238L1388 2225"/>
<path class="eB" d="M1386 2059Q1430 2085 1475 2064M1245 2406Q1290 2360 1336 2342"/>
<path class="ea" d="M1354 2006L1388 2225M1080 2207L1119 2210M1123 2330L1154 2329M1191 2412L1221 2295M1191 2412L1284 2316M1477 2339L1517 2342M1390 2397L1443 2412"/>
<g class="G">
<circle cx="1153" cy="2051" r="10"/><circle cx="1242" cy="2037" r="10"/><circle cx="1319" cy="2036" r="10"/><circle cx="1475" cy="2064" r="10"/><circle cx="1075" cy="2126" r="10"/><circle cx="1416" cy="2127" r="10"/><circle cx="1178" cy="2180" r="10"/><circle cx="1119" cy="2210" r="10"/><circle cx="1445" cy="2200" r="10"/><circle cx="1528" cy="2205" r="10"/><circle cx="1295" cy="2215" r="10"/><circle cx="1388" cy="2225" r="10"/><circle cx="1461" cy="2270" r="10"/><circle cx="1523" cy="2269" r="10"/><circle cx="1221" cy="2295" r="10"/><circle cx="1284" cy="2316" r="10"/><circle cx="1154" cy="2329" r="10"/><circle cx="1477" cy="2339" r="10"/><circle cx="1390" cy="2397" r="10"/><circle cx="1337" cy="2445" r="10"/>
</g>
<g class="Y">
<circle cx="1386" cy="2059" r="7"/><circle cx="1140" cy="2140" r="6.5"/><circle cx="1208" cy="2237" r="7"/><circle cx="1141" cy="2265" r="9"/><circle cx="1336" cy="2342" r="9"/>
<circle cx="1178" cy="2101" r="4"/><circle cx="1271" cy="2091" r="3"/><circle cx="1321" cy="2124" r="3"/><circle cx="1518" cy="2122" r="3"/><circle cx="1244" cy="2130" r="3"/><circle cx="1327" cy="2171" r="3"/><circle cx="1240" cy="2178" r="3.5"/><circle cx="1339" cy="2238" r="3"/><circle cx="1076" cy="2266" r="2.5"/><circle cx="1300" cy="2268" r="3"/><circle cx="1386" cy="2291" r="4"/><circle cx="1413" cy="2336" r="3"/><circle cx="1216" cy="2346" r="3"/><circle cx="1310" cy="2397" r="4"/><circle cx="1245" cy="2406" r="3.5"/>
</g>
<g class="n">
<text x="1134" y="2079">Evi5</text><text x="1224" y="2065">Arf2</text><text x="1291" y="2064">Sdf2l1</text><text x="1349" y="2085">Slc31a2</text><text x="1439" y="2092">Slc31a1</text><text x="1239" y="2111">Sumo1</text><text x="1160" y="2123">Tiprl</text><text x="1484" y="2143">Paxbp1</text><text x="1306" y="2145">Dbi</text><text x="1215" y="2151">Actr1a</text><text x="1045" y="2156">Pcolce</text><text x="1371" y="2156">Tmem214</text><text x="1115" y="2165">Igbp1</text><text x="1310" y="2190">Klf4</text><text x="1209" y="2199">Ppp4r1</text><text x="1150" y="2209">Ppp4c</text><text x="1416" y="2229">Spint2</text><text x="1494" y="2234">Zdhhc1</text><text x="1088" y="2240">Hemk1</text><text x="1271" y="2244">Ugdh</text><text x="1370" y="2253">Adsl</text><text x="1307" y="2259">Ube2m</text><text x="1176" y="2263">Ppp4r4</text><text x="1052" y="2287">Chn1</text><text x="1273" y="2289">Foxb1</text><text x="1117" y="2292">Mtrf1l</text><text x="1440" y="2298">Perp</text><text x="1504" y="2298">Ttc9</text><text x="1363" y="2314">Aqp4</text><text x="1188" y="2324">Fbxw11</text><text x="1264" y="2345">Eloa</text><text x="1389" y="2357">Map7</text><text x="1136" y="2359">Hprt</text><text x="1188" y="2367">Polr2a</text><text x="1310" y="2368">Pot1a</text><text x="1457" y="2370">Rfng</text><text x="1290" y="2419">Stn1</text><text x="1366" y="2426">Trpv4</text><text x="1220" y="2428">Pot1b</text><text x="1320" y="2474">Acd</text>
</g>
<g class="ag">
<text x="1182" y="1995">Fumarate_lyase_fam; L-Aspartase-like</text>
<text x="1080" y="2214" text-anchor="end">Small_mtfrase_dom</text>
<text x="972" y="2334">PRibTrfase_dom</text>
<text x="1082" y="2416">F-box_dom</text>
<text x="1521" y="2347">Fringe</text>
<text x="1443" y="2416">TRPV1-4_channel</text>
</g>
<!-- legend -->
<text x="1632" y="2107" style="font-size:21px;font-weight:bold;fill:#1a1a1a">Networks</text>
<g class="lg" style="font-size:19px">
<rect x="1630" y="2139" width="13" height="13" fill="#f0a0a8"/><text x="1659" y="2152">Physical Interactions</text>
<rect x="1630" y="2172" width="13" height="13" fill="#f6c08a"/><text x="1659" y="2185">Predicted</text>
<rect x="1630" y="2204" width="13" height="13" fill="#d8b8e0"/><text x="1659" y="2217">Co-expression</text>
<rect x="1630" y="2237" width="13" height="13" fill="#6e6e6e"/><text x="1659" y="2250">InterPro</text>
<rect x="1630" y="2269" width="13" height="13" fill="#a8b8e0"/><text x="1659" y="2282">Co-localization</text>
<rect x="1630" y="2302" width="13" height="13" fill="#bdbdbd"/><text x="1659" y="2315">Other</text>
<rect x="1630" y="2334" width="13" height="13" fill="#a8e0e8"/><text x="1659" y="2347">Pathway</text>
<rect x="1630" y="2367" width="13" height="13" fill="#d8cc98"/><text x="1659" y="2380">Shared protein domains</text>
<rect x="1630" y="2400" width="13" height="13" fill="#a8e090"/><text x="1659" y="2413">Genetic Interactions</text>
</g>
</svg>
</body></html>
